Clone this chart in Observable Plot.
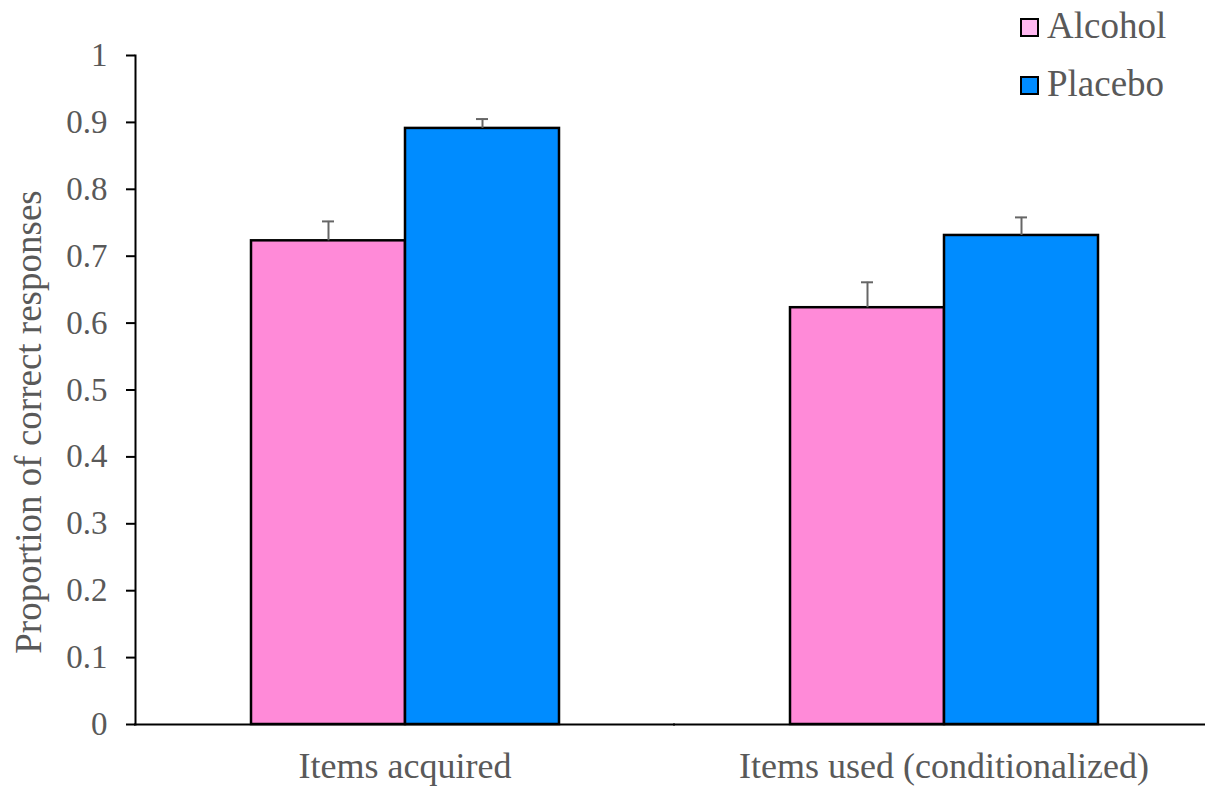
<!DOCTYPE html>
<html>
<head>
<meta charset="utf-8">
<script src="https://cdn.jsdelivr.net/npm/d3@7"></script>
<script src="https://cdn.jsdelivr.net/npm/@observablehq/plot@0.6"></script>
<style>
  html, body { margin: 0; padding: 0; background: #fff; }
  #chart { position: relative; width: 1205px; height: 787px; }
  .legend { position: absolute; left: 1020px; top: 0; font-family: "Liberation Serif", serif; font-size: 37px; color: #595959; }
  .legend .item { position: absolute; left: 0; display: flex; align-items: flex-start; white-space: nowrap; line-height: 41px; }
  .legend .swatch { width: 15px; height: 15px; border: 2.5px solid #000; margin-right: 8px; margin-top: 13px; }
</style>
</head>
<body>
<div id="chart"></div>
<script>
// Group labels along the bottom axis
const categories = ["Items acquired", "Items used (conditionalized)"];
// Drink conditions (one bar per condition in each group)
const series = ["Alcohol", "Placebo"];
// Mean proportion of correct responses per group
const alcoholMeans = [0.723, 0.623];
const placeboMeans = [0.891, 0.731];
// Standard errors (drawn upward only)
const alcoholErrors = [0.029, 0.038];
const placeboErrors = [0.014, 0.027];
// Y axis ticks
const yTicks = [0, 0.1, 0.2, 0.3, 0.4, 0.5, 0.6, 0.7, 0.8, 0.9, 1];
const yTickLabels = ["0", "0.1", "0.2", "0.3", "0.4", "0.5", "0.6", "0.7", "0.8", "0.9", "1"];
const yTitle = "Proportion of correct responses";
// Bar and legend colours
const barColors = ["#FF8AD8", "#008CFF"];
const legendColors = ["#FFB8F0", "#008CFF"];

const rows = [];
categories.forEach((c, i) => {
  rows.push({category: c, series: "Alcohol", value: alcoholMeans[i], err: alcoholErrors[i]});
  rows.push({category: c, series: "Placebo", value: placeboMeans[i], err: placeboErrors[i]});
});

const textColor = "#595959";

const chart = Plot.plot({
  width: 1205,
  height: 787,
  marginLeft: 135,
  marginRight: -8,
  marginTop: 55,
  marginBottom: 63,
  style: {fontFamily: "'Liberation Serif', serif", fontSize: "33px", color: textColor, background: "white", overflow: "visible"},
  fx: {domain: categories, paddingInner: 0, paddingOuter: 0, axis: null},
  x: {domain: series, paddingInner: 0, paddingOuter: 0.75, axis: null},
  y: {domain: [0, 1], axis: null},
  color: {domain: series, range: barColors},
  marks: [
    Plot.barY(rows, {fx: "category", x: "series", y: "value", fill: "series", stroke: "#000", strokeWidth: 2.5}),
    Plot.ruleX(rows, {fx: "category", x: "series", y1: "value", y2: (d) => d.value + d.err, stroke: "#666", strokeWidth: 2}),
    Plot.tickY(rows, {fx: "category", x: "series", y: (d) => d.value + d.err, stroke: "#666", strokeWidth: 2, insetLeft: 71, insetRight: 71}),
    // baseline, overlapping slightly so the two panels join seamlessly
    Plot.ruleY([0], {stroke: "#000", strokeWidth: 2, insetLeft: -1, insetRight: -1}),
    Plot.frame({anchor: "left", facetAnchor: "left", stroke: "#000", strokeWidth: 2}),
    Plot.axisY({
      ticks: yTicks,
      tickFormat: (d) => yTickLabels[yTicks.indexOf(d)],
      tickSize: 9,
      tickPadding: 19,
      stroke: "#000",
      strokeWidth: 2,
      fill: textColor,
      fontSize: 33,
      label: null
    }),
    Plot.text([yTitle], {
      facetAnchor: "left",
      frameAnchor: "left",
      rotate: -90,
      dx: -106,
      dy: 32,
      fill: textColor,
      fontSize: 37,
      textAnchor: "middle",
      lineAnchor: "middle"
    }),
    Plot.axisFx({
      anchor: "bottom",
      tickSize: 0,
      tickPadding: 28,
      fill: textColor,
      fontSize: 36,
      label: null
    })
  ]
});

const host = document.getElementById("chart");
host.appendChild(chart);

// Legend in the top-right corner
const legend = document.createElement("div");
legend.className = "legend";
series.forEach((s, i) => {
  const item = document.createElement("div");
  item.className = "item";
  item.style.top = (i === 0 ? 5 : 63) + "px";
  const sw = document.createElement("span");
  sw.className = "swatch";
  sw.style.background = legendColors[i];
  const label = document.createElement("span");
  label.textContent = s;
  item.appendChild(sw);
  item.appendChild(label);
  legend.appendChild(item);
});
host.appendChild(legend);
</script>
</body>
</html>
